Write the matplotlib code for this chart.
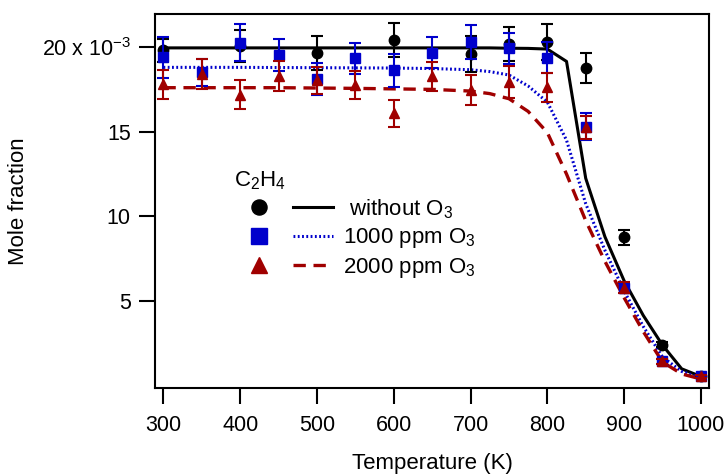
"""C2H4 mole fraction vs temperature, with and without O3 addition."""

import matplotlib
matplotlib.use("Agg")
import matplotlib.pyplot as plt
from matplotlib.lines import Line2D
from matplotlib.legend_handler import HandlerTuple

plt.rcParams["font.family"] = ["Liberation Sans", "DejaVu Sans"]
plt.rcParams["mathtext.fontset"] = "custom"
plt.rcParams["mathtext.rm"] = "Liberation Sans"
plt.rcParams["mathtext.it"] = "Liberation Sans:italic"
plt.rcParams["mathtext.default"] = "regular"

# ---- measured points (mole fraction x 1e-3) ----
T_noO3 = [300, 400, 500, 600, 700, 750, 800, 850, 900, 950, 1000]
y_noO3 = [19.8, 20.05, 19.65, 20.4, 19.6, 20.2, 20.3, 18.75, 8.78, 2.42, 0.55]
e_noO3 = [0.7, 0.95, 1.0, 1.0, 1.05, 1.0, 1.05, 0.9, 0.44, 0.15, 0.1]

T_1000 = [300, 350, 400, 450, 500, 550, 600, 650, 700, 750, 800, 850, 900, 950, 1000]
y_1000 = [19.4, 18.5, 20.25, 19.55, 18.1, 19.33, 18.62, 19.66, 20.3, 19.92, 19.38, 15.3, 5.78, 1.45, 0.55]
e_1000 = [1.2, 0.8, 1.1, 0.95, 0.95, 0.9, 0.98, 0.91, 1.0, 0.93, 0.9, 0.8, 0.3, 0.15, 0.1]

T_2000 = [300, 350, 400, 450, 500, 550, 600, 650, 700, 750, 800, 850, 900, 950, 1000]
y_2000 = [17.8, 18.4, 17.19, 18.27, 18.05, 17.78, 16.1, 18.28, 17.47, 17.95, 17.62, 15.25, 5.8, 1.45, 0.55]
e_2000 = [0.87, 0.9, 0.87, 0.88, 0.8, 0.83, 0.8, 0.86, 0.89, 0.95, 0.87, 0.7, 0.3, 0.15, 0.1]

# ---- model curves ----
T_model = [300, 350, 400, 450, 500, 550, 600, 650, 700, 725, 750, 775, 800,
           825, 850, 875, 900, 925, 950, 975, 1000]
m_noO3 = [19.95, 19.95, 19.95, 19.95, 19.95, 19.95, 19.95, 19.95, 19.95, 19.95, 19.93, 19.92, 19.88,
          19.15, 12.25, 8.8, 6.2, 4.15, 2.4, 1.0, 0.55]
m_1000 = [18.8, 18.8, 18.8, 18.79, 18.78, 18.77, 18.76, 18.73, 18.66, 18.55, 18.35, 17.7, 16.75,
          14.5, 10.75, 8.0, 5.6, 3.5, 1.7, 0.85, 0.45]
m_2000 = [17.6, 17.6, 17.6, 17.6, 17.58, 17.56, 17.53, 17.5, 17.4, 17.25, 16.95, 16.2, 14.95,
          12.5, 9.75, 7.35, 5.2, 3.2, 1.4, 0.7, 0.4]

labels = [" without O$_3$", "1000 ppm O$_3$", "2000 ppm O$_3$"]
black, blue, red = "black", "#0000cc", "#a00000"
dotted = (0, (0.6, 0.8))
dashed = (0, (3.7, 2.3))

fig = plt.figure(figsize=(7.26, 4.75), dpi=100)
ax = fig.add_axes([0.2135, 0.1832, 0.763, 0.7873])

l1, = ax.plot(T_model, m_noO3, color=black, lw=2.2, zorder=2)
l2, = ax.plot(T_model, m_1000, color=blue, lw=2.2, ls=dotted, zorder=2)
l3, = ax.plot(T_model, m_2000, color=red, lw=2.4, ls=dashed, zorder=2)

kw = dict(capsize=4.5, elinewidth=1.5, capthick=1.5, ms=7.5, ls="none")
ax.errorbar(T_noO3, y_noO3, yerr=e_noO3, fmt="o", color=black, zorder=3, **kw)
ax.errorbar(T_1000, y_1000, yerr=e_1000, fmt="s", color=blue, zorder=4, **kw)
ax.errorbar(T_2000, y_2000, yerr=e_2000, fmt="^", color=red, zorder=5, **kw)

ax.set_xlim(289, 1010.5)
ax.set_ylim(-0.13, 21.95)
ax.set_xticks([300, 400, 500, 600, 700, 800, 900, 1000])
ax.set_yticks([5, 10, 15, 20])
ax.set_yticklabels(["5", "10", "15", "20 x 10$^{-3}$"])
ax.tick_params(direction="out", length=11.5, width=1.5, labelsize=15.5)
ax.tick_params(axis="x", pad=8)
ax.tick_params(axis="y", pad=6)
for s in ax.spines.values():
    s.set_linewidth(1.5)

ax.set_xlabel("Temperature (K)", fontsize=16, labelpad=12)
ax.set_ylabel("Mole fraction", fontsize=16, labelpad=9)

# legend: marker + model line per condition, title as separate text
m1 = Line2D([], [], marker="o", color=black, ls="none", ms=7.5)
m2 = Line2D([], [], marker="s", color=blue, ls="none", ms=7.5)
m3 = Line2D([], [], marker="^", color=red, ls="none", ms=7.5)
ax.text(0.1426, 0.538, "C$_2$H$_4$", transform=ax.transAxes, fontsize=16,
        ha="left", va="baseline")
ax.legend([(m1, l1), (m2, l2), (m3, l3)], labels,
          handler_map={tuple: HandlerTuple(ndivide=None, pad=0.63)},
          fontsize=16, loc="upper left", bbox_to_anchor=(0.132, 0.54),
          frameon=False, borderpad=0, handlelength=4.2,
          handletextpad=0.47, labelspacing=0.25, markerscale=1.45)

fig.savefig("out.png", dpi=100)
